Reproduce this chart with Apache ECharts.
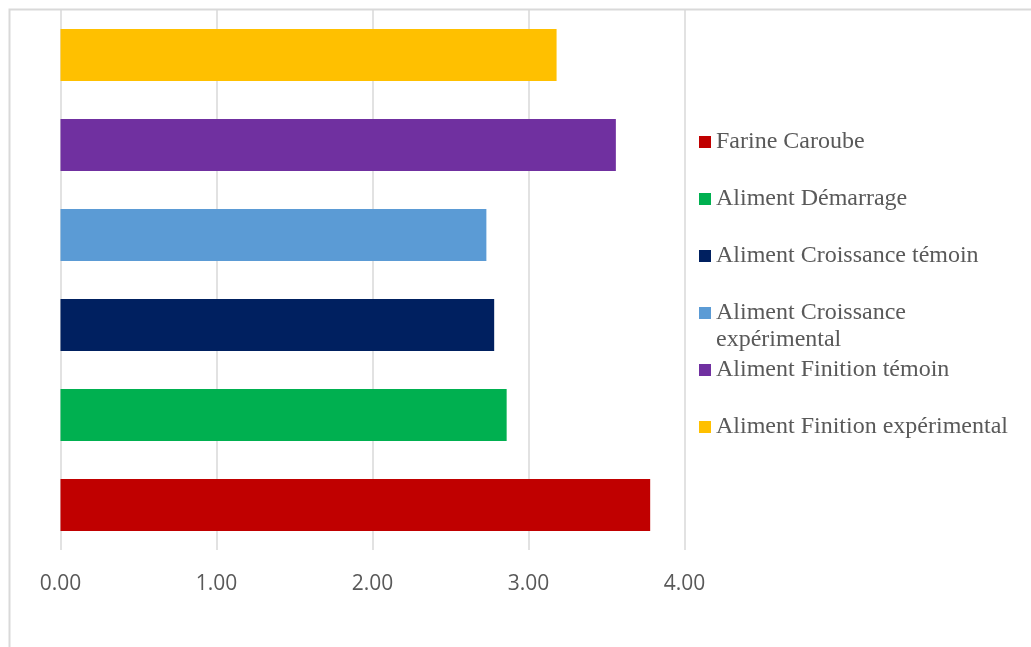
<!DOCTYPE html>
<html>
<head>
<meta charset="utf-8">
<script src="https://cdn.jsdelivr.net/npm/echarts@6/dist/echarts.min.js"></script>
<style>
  html, body { margin: 0; padding: 0; background: #ffffff; }
  #chart { width: 1031px; height: 647px; }
</style>
</head>
<body>
<div id="chart"></div>
<script>
// Feed groups, bottom to top on the chart
const categories = [
  'Farine Caroube',
  'Aliment Démarrage',
  'Aliment Croissance témoin',
  'Aliment Croissance expérimental',
  'Aliment Finition témoin',
  'Aliment Finition expérimental'
];
// One value per group
const values = [3.78, 2.86, 2.78, 2.73, 3.56, 3.18];
const colors = ['#C00000', '#00B050', '#002060', '#5B9BD5', '#7030A0', '#FFC000'];
// Value-axis range
const axisMin = 0;
const axisMax = 4;
const axisStep = 1;

const textGray = '#595959';
const gridGray = '#d9d9d9';

// One series per group so each one gets its own legend entry;
// stacking keeps every bar centred on its own category slot.
const series = categories.map((name, i) => ({
  name: name,
  type: 'bar',
  stack: 'all',
  barCategoryGap: '42%',
  itemStyle: { color: colors[i] },
  data: categories.map((_, j) => (j === i ? values[i] : null))
}));

// Legend: one entry per line slot; the long label wraps onto a second
// line that hangs below its marker (empty first line keeps the marker
// level with the first text line).
const legendLeft = 699;
const legendCenters = [142, 199, 256, 313, 370, 427];
const lineH = 27;
const legends = categories.map((name, i) => {
  const wrapped = name === 'Aliment Croissance expérimental';
  return {
    orient: 'vertical',
    left: legendLeft,
    top: wrapped ? legendCenters[i] - 1.5 * lineH : legendCenters[i] - lineH / 2,
    padding: 0,
    itemWidth: 12,
    itemHeight: 12,
    icon: 'rect',
    data: [name],
    formatter: wrapped ? () => '\nAliment Croissance\nexpérimental' : undefined,
    textStyle: {
      fontFamily: 'Liberation Serif',
      fontSize: 24,
      color: textGray,
      lineHeight: lineH
    }
  };
});

const chart = echarts.init(document.getElementById('chart'), null, { renderer: 'canvas' });
chart.setOption({
  animation: false,
  backgroundColor: '#ffffff',
  graphic: [{
    type: 'rect',
    shape: { x: 9.5, y: 9.5, width: 1100, height: 700 },
    style: { fill: null, stroke: gridGray, lineWidth: 2 },
    silent: true,
    z: -10
  }],
  legend: legends,
  grid: { left: 60.5, top: 10, width: 624, height: 540, containLabel: false },
  xAxis: {
    type: 'value',
    min: axisMin,
    max: axisMax,
    interval: axisStep,
    axisLine: { show: false },
    axisTick: { show: false },
    splitLine: { show: true, lineStyle: { color: gridGray, width: 1.5 } },
    axisLabel: {
      fontFamily: 'Open Sans',
      fontSize: 21,
      color: textGray,
      margin: 24,
      formatter: v => v.toFixed(2)
    }
  },
  yAxis: {
    type: 'category',
    data: categories,
    axisLine: { show: false },
    axisTick: { show: false },
    axisLabel: { show: false },
    splitLine: { show: false }
  },
  series: series
});
</script>
</body>
</html>
